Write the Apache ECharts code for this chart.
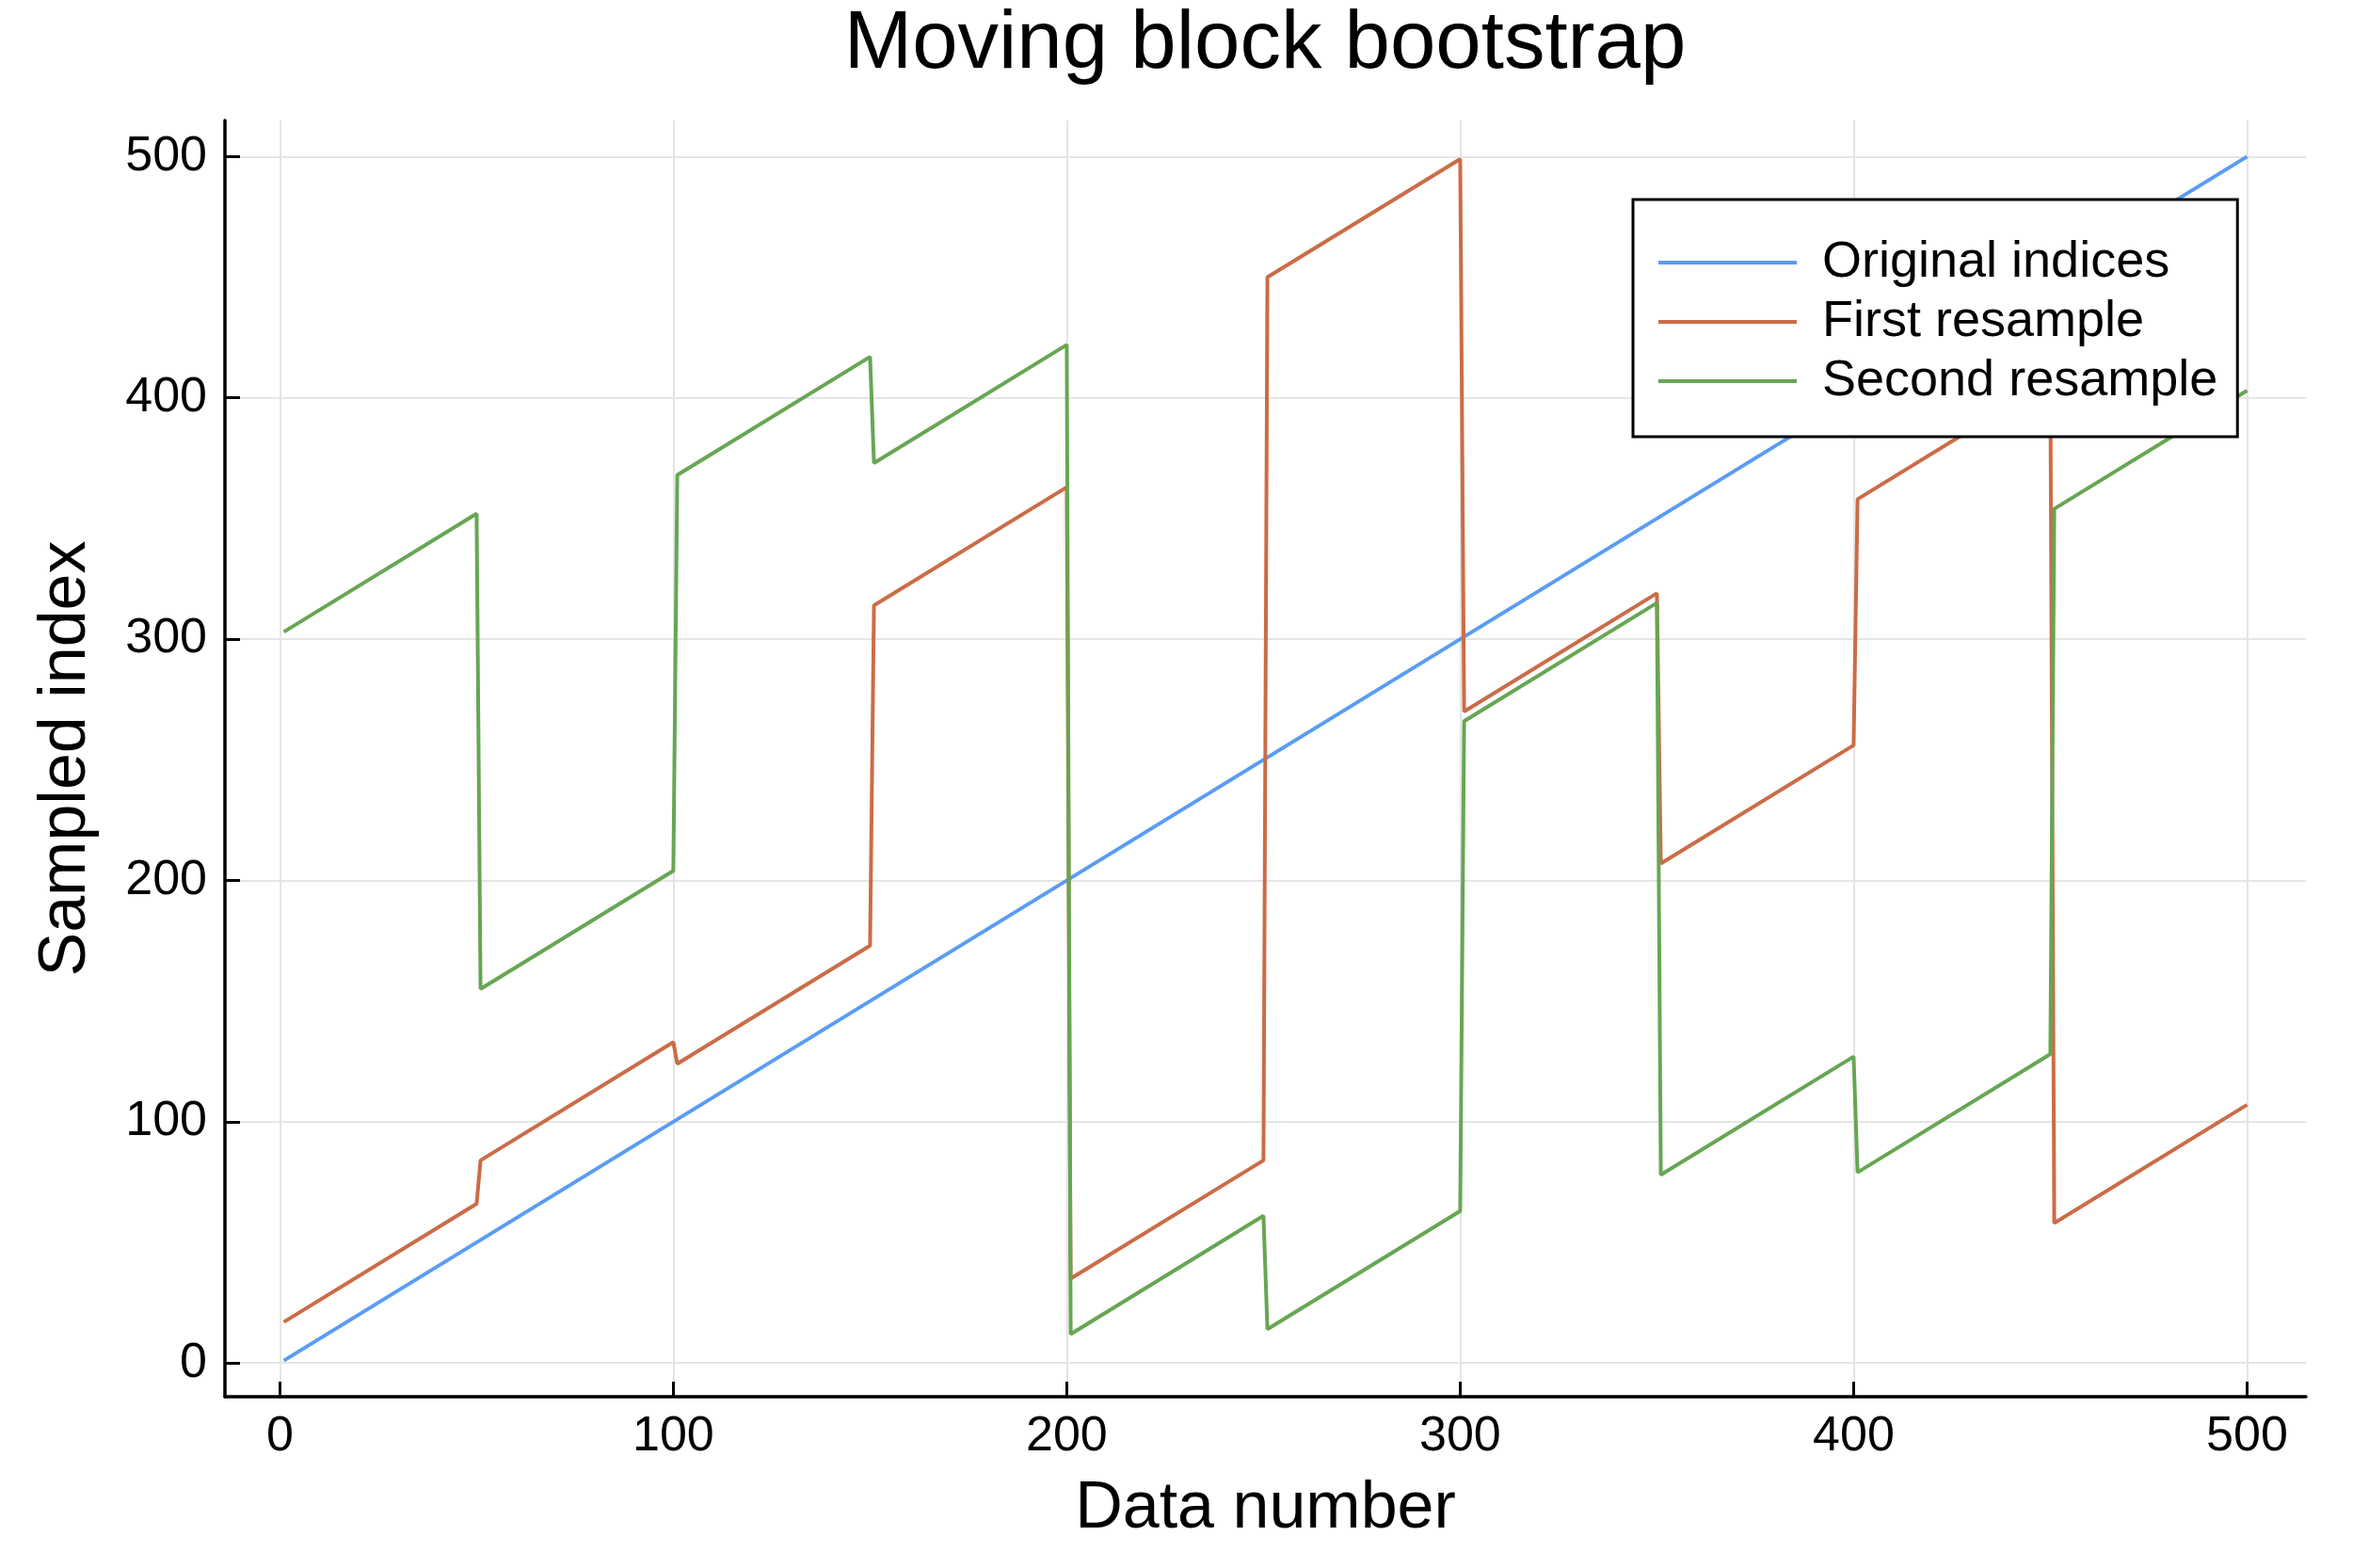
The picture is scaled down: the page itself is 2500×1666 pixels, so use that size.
<!DOCTYPE html>
<html>
<head>
<meta charset="utf-8">
<script src="https://cdn.jsdelivr.net/npm/echarts@6/dist/echarts.min.js"></script>
<style>
html,body{margin:0;padding:0;background:#fff;}
#chart{width:2500px;height:1666px;}
</style>
</head>
<body>
<div id="chart"></div>
<script>
// ---- data ----
const seriesNames = ['Original indices', 'First resample', 'Second resample'];
const xTicks = [0, 100, 200, 300, 400, 500];
const yTicks = [0, 100, 200, 300, 400, 500];

// original indices: straight line from first to last point
const originalX = [1, 500];
const originalY = [1, 500];

// block boundaries (x of first and last point of each block)
const blockStartX = [1, 51, 101, 151, 201, 251, 301, 351, 401, 451];
const blockEndX   = [50, 100, 150, 200, 250, 300, 350, 400, 450, 500];

// first resample: sampled index at start and end of each block
const firstStart = [17, 84, 124, 314, 35, 450, 270, 207, 358, 58];
const firstEnd   = [66, 133, 173, 363, 84, 499, 319, 256, 407, 107];

// second resample: sampled index at start and end of each block
const secondStart = [303, 155, 368, 373, 12, 14, 266, 78, 79, 354];
const secondEnd   = [352, 204, 417, 422, 61, 63, 315, 127, 128, 403];

function blockVertices(starts, ends) {
  const pts = [];
  for (let i = 0; i < blockStartX.length; i++) {
    pts.push([blockStartX[i], starts[i]]);
    pts.push([blockEndX[i], ends[i]]);
  }
  return pts;
}
const originalData = originalX.map((x, i) => [x, originalY[i]]);
const firstData = blockVertices(firstStart, firstEnd);
const secondData = blockVertices(secondStart, secondEnd);

const colors = ['#5A9CF5', '#CB6C47', '#67A653'];
const FONT = '"Liberation Sans", Arial, Helvetica, sans-serif';

const chart = echarts.init(document.getElementById('chart'), null, {renderer: 'canvas'});

const axisCommon = {
  type: 'value',
  axisLine: {show: true, onZero: false, lineStyle: {color: '#000', width: 3.5}},
  axisTick: {show: true, inside: true, length: 16, lineStyle: {color: '#000', width: 3}},
  splitLine: {show: true, lineStyle: {color: '#e5e5e5', width: 2}},
  nameTextStyle: {fontFamily: FONT, fontSize: 70, color: '#000'},
  nameLocation: 'middle'
};

chart.setOption({
  backgroundColor: '#fff',
  animation: false,
  color: colors,
  title: {
    text: 'Moving block bootstrap',
    left: 1344,
    top: 5,
    padding: 0,
    textAlign: 'center',
    textStyle: {fontFamily: FONT, fontSize: 87, fontWeight: 'normal', color: '#000'}
  },
  legend: {
    orient: 'vertical',
    left: 1735,
    top: 212,
    padding: [40, 21, 32, 27],
    borderColor: '#000',
    borderWidth: 3,
    backgroundColor: '#fff',
    icon: 'rect',
    itemWidth: 147,
    itemHeight: 4,
    itemGap: 9,
    data: seriesNames,
    textStyle: {fontFamily: FONT, fontSize: 54, color: '#000', lineHeight: 54, padding: [0, 0, 0, 22]}
  },
  grid: {left: 239, right: 50, top: 128, bottom: 182, containLabel: false},
  xAxis: Object.assign({}, axisCommon, {
    min: -13.97,
    max: 514.97,
    name: 'Data number',
    nameGap: 85,
    axisTick: Object.assign({}, axisCommon.axisTick, {customValues: xTicks}),
    axisLabel: {customValues: xTicks, fontFamily: FONT, fontSize: 52, color: '#000', margin: 17}
  }),
  yAxis: Object.assign({}, axisCommon, {
    min: -13.97,
    max: 514.97,
    name: 'Sampled index',
    nameGap: 133,
    nameRotate: 90,
    axisTick: Object.assign({}, axisCommon.axisTick, {customValues: yTicks}),
    axisLabel: {customValues: yTicks, fontFamily: FONT, fontSize: 52, color: '#000', margin: 19}
  }),
  series: [
    {name: seriesNames[0], type: 'line', data: originalData, showSymbol: false, lineStyle: {width: 4, color: colors[0]}, itemStyle: {color: colors[0]}},
    {name: seriesNames[1], type: 'line', data: firstData, showSymbol: false, lineStyle: {width: 4, color: colors[1]}, itemStyle: {color: colors[1]}},
    {name: seriesNames[2], type: 'line', data: secondData, showSymbol: false, lineStyle: {width: 4, color: colors[2]}, itemStyle: {color: colors[2]}}
  ]
});
</script>
</body>
</html>
